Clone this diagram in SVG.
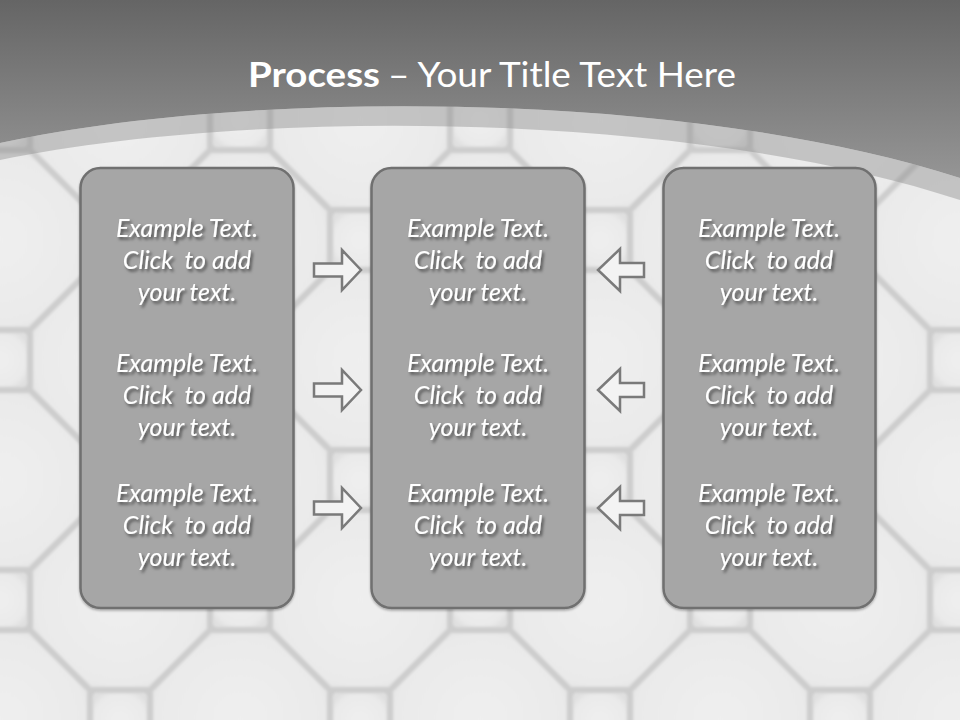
<svg xmlns="http://www.w3.org/2000/svg" width="960" height="720" viewBox="0 0 960 720">
<style>
.tile{fill:url(#tileGrad);stroke:#dadada;stroke-width:1.5}
.box{fill:#a6a6a6;stroke:#6f6f6f;stroke-width:2.5}
.t{font-family:Lato,"Open Sans","Liberation Sans",sans-serif;font-style:italic;font-size:25px;fill:#ffffff;text-anchor:middle;white-space:pre}
.title{font-family:Lato,"Open Sans","Liberation Sans",sans-serif;font-size:35px;fill:#ffffff}
.arrow{fill:#f3f3f3;stroke:#7a7a7a;stroke-width:2.5;stroke-linejoin:miter}
</style>
<defs>
<radialGradient id="tileGrad" cx="0.5" cy="0.5" r="0.6">
<stop offset="0" stop-color="#efefef"/>
<stop offset="0.8" stop-color="#eaeaea"/>
<stop offset="1" stop-color="#e0e0e0"/>
</radialGradient>
<linearGradient id="headGrad" x1="0" y1="0" x2="0" y2="200" gradientUnits="userSpaceOnUse">
<stop offset="0" stop-color="#656565"/>
<stop offset="1" stop-color="#9b9b9b"/>
</linearGradient>
<filter id="soft" x="-10%" y="-10%" width="120%" height="120%">
<feGaussianBlur stdDeviation="1"/>
</filter>
<filter id="tshadow" x="-20%" y="-30%" width="140%" height="160%">
<feDropShadow dx="2" dy="2.5" stdDeviation="1.5" flood-color="#000000" flood-opacity="0.55"/>
</filter>
<filter id="bshadow" x="-10%" y="-10%" width="120%" height="120%">
<feDropShadow dx="0" dy="1.5" stdDeviation="1" flood-color="#000000" flood-opacity="0.3"/>
</filter>
<polygon id="oct" points="-28.8,-87 28.8,-87 87,-28.8 87,28.8 28.8,87 -28.8,87 -87,28.8 -87,-28.8"/>
<rect id="sq" x="-27" y="-27" width="54" height="54" rx="4"/>
<pattern id="tiles" x="0" y="0" width="240" height="240" patternUnits="userSpaceOnUse">
<rect width="240" height="240" fill="#cdcdcd"/>
<g class="tile" filter="url(#soft)">
<use href="#oct" x="0" y="0"/>
<use href="#oct" x="240" y="0"/>
<use href="#oct" x="0" y="240"/>
<use href="#oct" x="240" y="240"/>
<use href="#oct" x="120" y="120"/>
<use href="#sq" x="120" y="0"/>
<use href="#sq" x="0" y="120"/>
<use href="#sq" x="240" y="120"/>
<use href="#sq" x="120" y="240"/>
</g>
</pattern>
<path id="arR" d="M-47,-6.5 H-19 V-20 L0,0 L-19,20 V6.5 H-47 Z"/>
<path id="arL" d="M46,-7 H22 V-21 L0,0 L22,21 V7 H46 Z"/>
</defs>

<g id="background">
<rect width="960" height="720" fill="url(#tiles)"/>
<path d="M0,143 C240,90 680,88 960,178 V200 C680,108 240,110 0,160 Z" fill="#8a8a8a" fill-opacity="0.42"/>
<path d="M0,0 H960 V178 C680,88 240,90 0,143 Z" fill="url(#headGrad)"/>
</g>

<g id="title">
<text class="title" x="248" y="87" font-weight="bold" textLength="132" lengthAdjust="spacingAndGlyphs">Process</text>
<text class="title" x="388" y="87" textLength="348" lengthAdjust="spacingAndGlyphs">– Your Title Text Here</text>
</g>

<g id="node-left">
<rect class="box" x="80.5" y="168" width="213" height="440" rx="20" filter="url(#bshadow)"/>
<g filter="url(#tshadow)">
<text class="t" x="187" y="237">Example Text.</text>
<text class="t" x="187" y="269">Click  to add</text>
<text class="t" x="187" y="301">your text.</text>
<text class="t" x="187" y="372">Example Text.</text>
<text class="t" x="187" y="404">Click  to add</text>
<text class="t" x="187" y="436">your text.</text>
<text class="t" x="187" y="502">Example Text.</text>
<text class="t" x="187" y="534">Click  to add</text>
<text class="t" x="187" y="566">your text.</text>
</g>
</g>

<g id="node-middle">
<rect class="box" x="371.5" y="168" width="213" height="440" rx="20" filter="url(#bshadow)"/>
<g filter="url(#tshadow)">
<text class="t" x="478" y="237">Example Text.</text>
<text class="t" x="478" y="269">Click  to add</text>
<text class="t" x="478" y="301">your text.</text>
<text class="t" x="478" y="372">Example Text.</text>
<text class="t" x="478" y="404">Click  to add</text>
<text class="t" x="478" y="436">your text.</text>
<text class="t" x="478" y="502">Example Text.</text>
<text class="t" x="478" y="534">Click  to add</text>
<text class="t" x="478" y="566">your text.</text>
</g>
</g>

<g id="node-right">
<rect class="box" x="663.5" y="168" width="212" height="440" rx="20" filter="url(#bshadow)"/>
<g filter="url(#tshadow)">
<text class="t" x="769" y="237">Example Text.</text>
<text class="t" x="769" y="269">Click  to add</text>
<text class="t" x="769" y="301">your text.</text>
<text class="t" x="769" y="372">Example Text.</text>
<text class="t" x="769" y="404">Click  to add</text>
<text class="t" x="769" y="436">your text.</text>
<text class="t" x="769" y="502">Example Text.</text>
<text class="t" x="769" y="534">Click  to add</text>
<text class="t" x="769" y="566">your text.</text>
</g>
</g>

<g id="connectors" class="arrow">
<use href="#arR" x="361" y="270"/>
<use href="#arR" x="361" y="390"/>
<use href="#arR" x="361" y="508"/>
<use href="#arL" x="598" y="270"/>
<use href="#arL" x="598" y="390"/>
<use href="#arL" x="598" y="508"/>
</g>
</svg>
